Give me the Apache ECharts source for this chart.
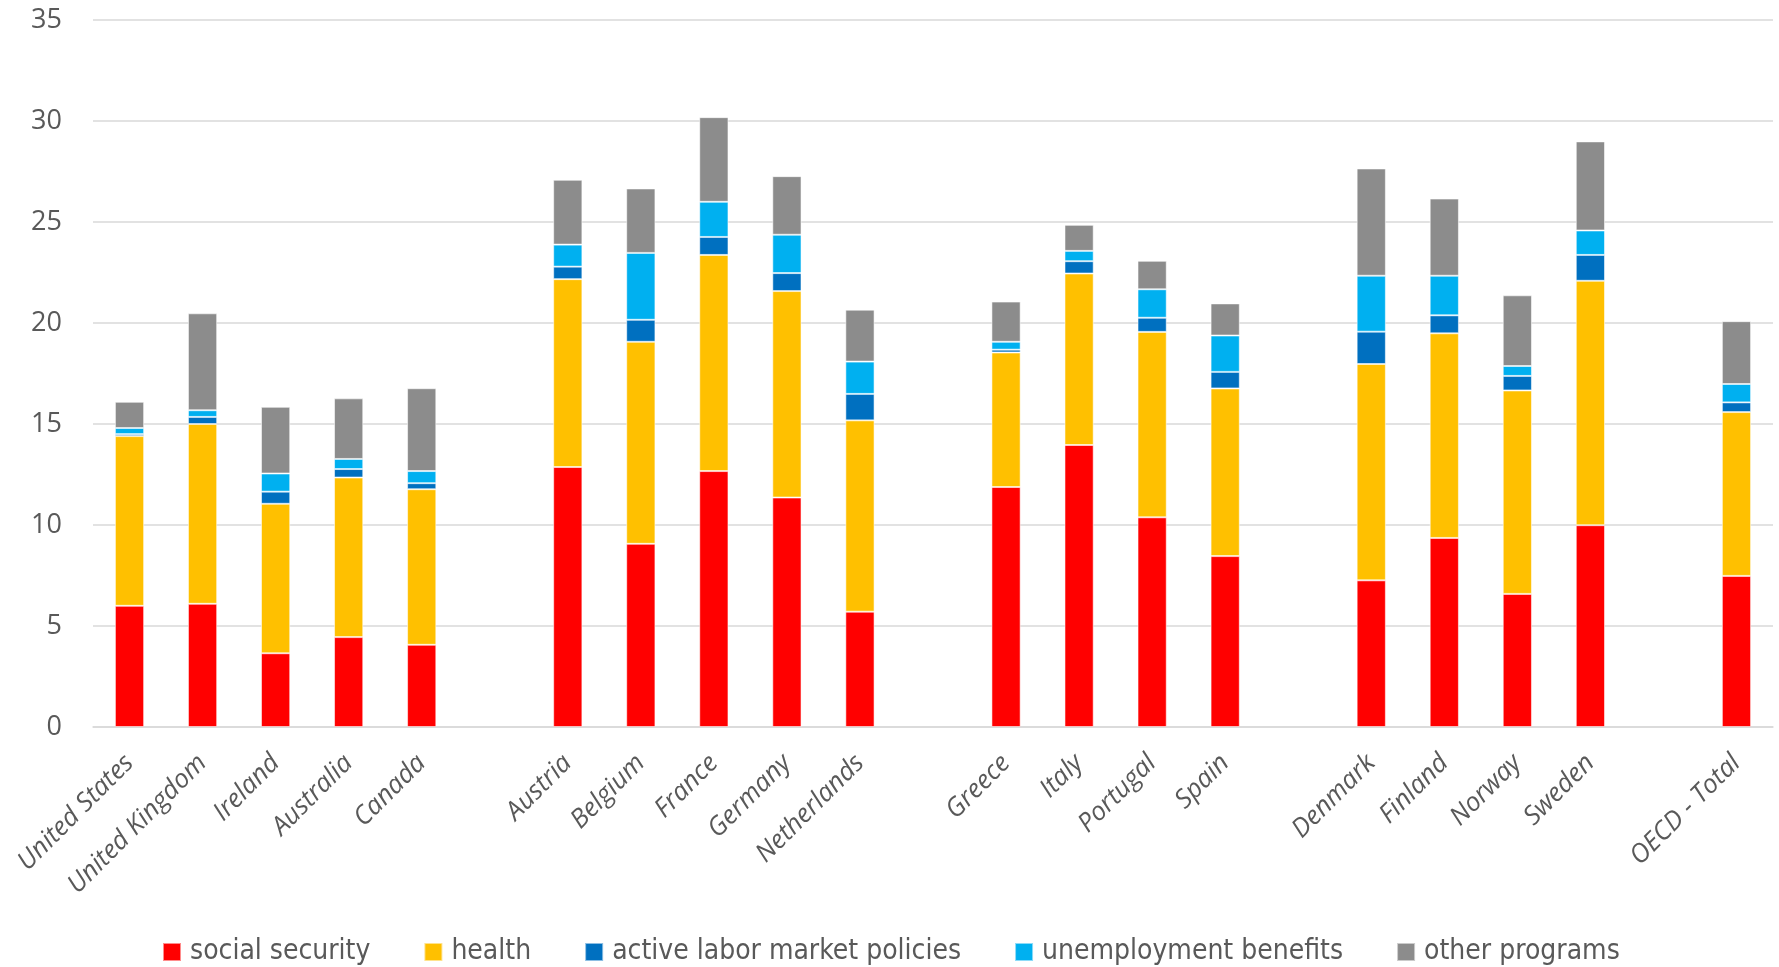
<!DOCTYPE html>
<html>
<head>
<meta charset="utf-8">
<script src="https://cdn.jsdelivr.net/npm/echarts@6/dist/echarts.min.js"></script>
<style>
html,body{margin:0;padding:0;background:#fff;}
#chart{width:1779px;height:967px;}
</style>
</head>
<body>
<div id="chart"></div>
<script>
const categories = ['United States','United Kingdom','Ireland','Australia','Canada',' ',
  'Austria','Belgium','France','Germany','Netherlands','  ',
  'Greece','Italy','Portugal','Spain','   ',
  'Denmark','Finland','Norway','Sweden','    ',
  'OECD - Total'];
const seriesNames = ['social security','health','active labor market policies','unemployment benefits','other programs'];
const socialSecurity = [6.0,6.1,3.65,4.45,4.07,null, 12.87,9.07,12.67,11.36,5.71,null, 11.88,13.96,10.38,8.46,null, 7.26,9.36,6.59,9.99,null, 7.48];
const health         = [8.4,8.9,7.4,7.9,7.7,null, 9.3,10.0,10.7,10.22,9.47,null, 6.66,8.49,9.18,8.3,null, 10.71,10.13,10.07,12.1,null, 8.11];
const activeLabor    = [0.1,0.35,0.6,0.42,0.3,null, 0.62,1.09,0.89,0.89,1.31,null, 0.14,0.61,0.7,0.82,null, 1.6,0.89,0.72,1.28,null, 0.48];
const unemployment   = [0.3,0.33,0.9,0.5,0.6,null, 1.09,3.31,1.74,1.9,1.6,null, 0.39,0.51,1.41,1.8,null, 2.77,1.96,0.49,1.21,null, 0.91];
const otherPrograms  = [1.3,4.8,3.3,3.0,4.1,null, 3.21,3.19,4.19,2.9,2.57,null, 1.99,1.29,1.41,1.59,null, 5.31,3.82,3.5,4.41,null, 3.11];
const yTicks = [0,5,10,15,20,25,30,35];
const colors = ['#FF0000','#FFC000','#0070C0','#00B0F0','#8C8C8C'];
const allData = [socialSecurity, health, activeLabor, unemployment, otherPrograms];

const chart = echarts.init(document.getElementById('chart'), null, {renderer:'canvas'});
chart.setOption({
  animation:false,
  backgroundColor:'#ffffff',
  color: colors,
  grid:{left:93, right:6, top:20, bottom:240, containLabel:false},
  legend:{
    data: seriesNames,
    top: 933,
    left: 157,
    icon:'rect',
    itemWidth:18, itemHeight:18,
    itemGap:53,
    textStyle:{fontFamily:'"Liberation Sans Narrow","DejaVu Sans Condensed",sans-serif', fontSize:28, color:'#595959', padding:[0,0,0,4]}
  },
  xAxis:{
    type:'category',
    data: categories,
    axisLine:{show:true, lineStyle:{color:'#D9D9D9', width:1.5}},
    axisTick:{show:false},
    axisLabel:{
      interval:0, rotate:45, margin:32,
      fontFamily:'"Open Sans",sans-serif', fontStyle:'italic', fontSize:26, color:'#595959'
    }
  },
  yAxis:{
    type:'value',
    min: yTicks[0], max: yTicks[yTicks.length-1], interval:5,
    axisLine:{show:false}, axisTick:{show:false},
    splitLine:{lineStyle:{color:'#D9D9D9', width:1.5}},
    axisLabel:{margin:31, fontFamily:'"Open Sans",sans-serif', fontSize:27, color:'#595959'}
  },
  series: seriesNames.map((n,i)=>({
    name:n, type:'bar', stack:'total',
    data: allData[i],
    barWidth:'40%',
    itemStyle:{color:colors[i], borderColor:'rgba(255,255,255,0.55)', borderWidth:1}
  }))
});
</script>
</body>
</html>
